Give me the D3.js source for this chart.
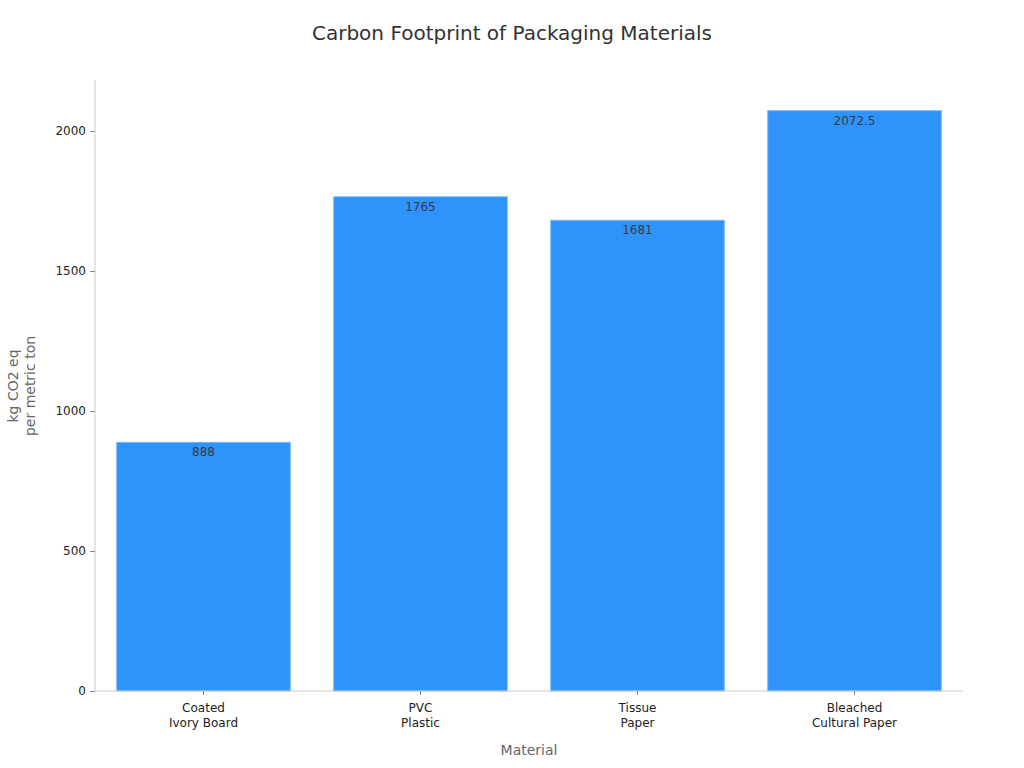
<!DOCTYPE html>
<html><head><meta charset="utf-8">
<script src="https://cdn.jsdelivr.net/npm/d3@7"></script>
<style>body{margin:0;background:#fff;font-family:"DejaVu Sans",sans-serif;}</style>
</head><body><svg id="c" width="1024" height="768" font-family="DejaVu Sans"></svg>
<script>
const categories = [["Coated","Ivory Board"],["PVC","Plastic"],["Tissue","Paper"],["Bleached","Cultural Paper"]];
const values = [888, 1765, 1681, 2072.5];
const valueLabels = ["888","1765","1681","2072.5"];
const yTicks = [0, 500, 1000, 1500, 2000];

const svg = d3.select("#c");
const m = {l:95, r:963, t:80, b:691};
const x = d3.scaleBand().domain(d3.range(values.length)).range([m.l, m.r]).paddingInner(0.2).paddingOuter(0.1);
const y = d3.scaleLinear().domain([0, 2182]).range([m.b, m.t]);

svg.append("text").attr("x",512).attr("y",40).attr("text-anchor","middle")
  .attr("font-size",20).attr("fill","#333").text("Carbon Footprint of Packaging Materials");

// bars
svg.selectAll("rect.bar").data(values).join("rect").attr("class","bar")
  .attr("x",(d,i)=>x(i)).attr("width",x.bandwidth())
  .attr("y",d=>y(d)).attr("height",d=>y(0)-y(d))
  .attr("fill","#2e93fa").attr("stroke","#7db9f5").attr("stroke-width",1);

svg.selectAll("text.val").data(values).join("text").attr("class","val")
  .attr("x",(d,i)=>x(i)+x.bandwidth()/2).attr("y",d=>y(d)+14)
  .attr("text-anchor","middle").attr("font-size",12).attr("fill","#3a3a3a")
  .text((d,i)=>valueLabels[i]);

// y axis
const ya = svg.append("g").attr("transform",`translate(${m.l},0)`)
  .call(d3.axisLeft(y).tickValues(yTicks).tickFormat(d3.format("d")).tickSize(5).tickPadding(4))
  .attr("font-family","DejaVu Sans");
ya.select(".domain").attr("stroke","#ccc").attr("d",`M0,${m.t}V${m.b}`);
ya.selectAll(".tick line").attr("stroke","#888");
ya.selectAll(".tick text").attr("font-size",12).attr("fill","#222");

// x axis
const xa = svg.append("g").attr("transform",`translate(0,${m.b})`)
  .call(d3.axisBottom(x).tickSize(4).tickFormat(""))
  .attr("font-family","DejaVu Sans");
xa.select(".domain").attr("stroke","#ccc").attr("d",`M${m.l},0H${m.r}`);
xa.selectAll(".tick line").attr("stroke","#888");
xa.selectAll(".tick").each(function(d){
  const t = d3.select(this).append("text").attr("text-anchor","middle").attr("font-size",12).attr("fill","#222");
  categories[d].forEach((s,k)=>t.append("tspan").attr("x",0).attr("y",21+k*15).text(s));
});

svg.append("text").attr("x",529).attr("y",755).attr("text-anchor","middle")
  .attr("font-size",14).attr("fill","#666").text("Material");
const yl = svg.append("text").attr("transform","translate(18,386) rotate(-90)")
  .attr("text-anchor","middle").attr("font-size",14).attr("fill","#666");
yl.append("tspan").attr("x",0).attr("y",0).text("kg CO2 eq");
yl.append("tspan").attr("x",0).attr("y",17).text("per metric ton");
</script></body></html>
